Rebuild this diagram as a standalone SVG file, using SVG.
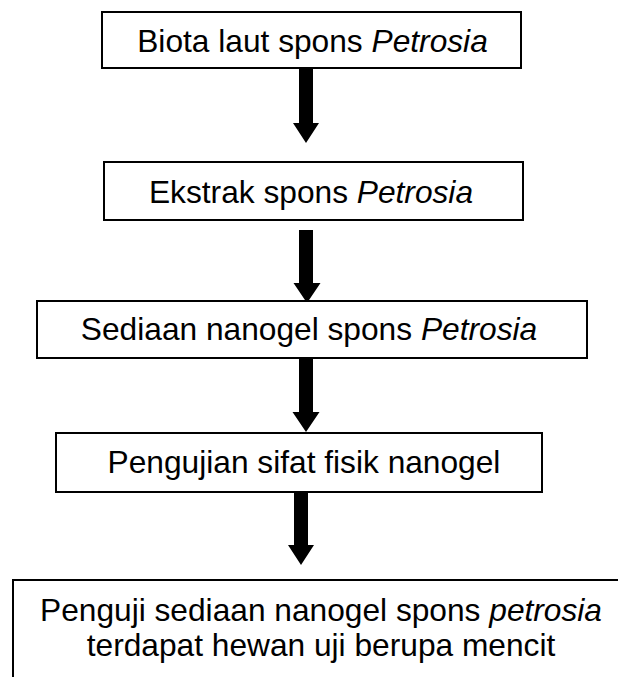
<svg xmlns="http://www.w3.org/2000/svg" width="618" height="677" viewBox="0 0 618 677">
<style>
.box{fill:#fff;stroke:#000;stroke-width:2}
.t{font-family:"Liberation Sans",Arial,sans-serif;font-size:31.7px;fill:#000;text-anchor:middle}
.i{font-style:italic}
.arr{fill:#000}
</style>
<rect width="618" height="677" fill="#fff"/>
<g id="connectors">
<path class="arr" d="M299,69 H313 V123 H319 L306,143 L293,123 H299 Z"/>
<path class="arr" d="M299,230 H313 V283 H320.5 L307,303 L293.5,283 H299 Z"/>
<path class="arr" d="M299,358 H313 V412 H319.5 L306,432 L292.5,412 H299 Z"/>
<path class="arr" d="M294,492 H308 V545 H314 L301,565 L288,545 H294 Z"/>
</g>
<g id="n1">
<rect class="box" x="102" y="12" width="419" height="56"/>
<text class="t" x="312.5" y="52">Biota laut spons <tspan class="i">Petrosia</tspan></text>
</g>
<g id="n2">
<rect class="box" x="104" y="162" width="419" height="58"/>
<text class="t" x="311" y="203">Ekstrak spons <tspan class="i">Petrosia</tspan></text>
</g>
<g id="n3">
<rect class="box" x="37" y="301" width="550" height="57"/>
<text class="t" x="309" y="340">Sediaan nanogel spons <tspan class="i">Petrosia</tspan></text>
</g>
<g id="n4">
<rect class="box" x="56" y="433" width="486" height="59"/>
<text class="t" x="304" y="473">Pengujian sifat fisik nanogel</text>
</g>
<g id="n5">
<rect class="box" x="13" y="580" width="620" height="120"/>
<text class="t" x="321" y="621">Penguji sediaan nanogel spons <tspan class="i">petrosia</tspan></text>
<text class="t" x="321" y="656">terdapat hewan uji berupa mencit</text>
</g>
</svg>
